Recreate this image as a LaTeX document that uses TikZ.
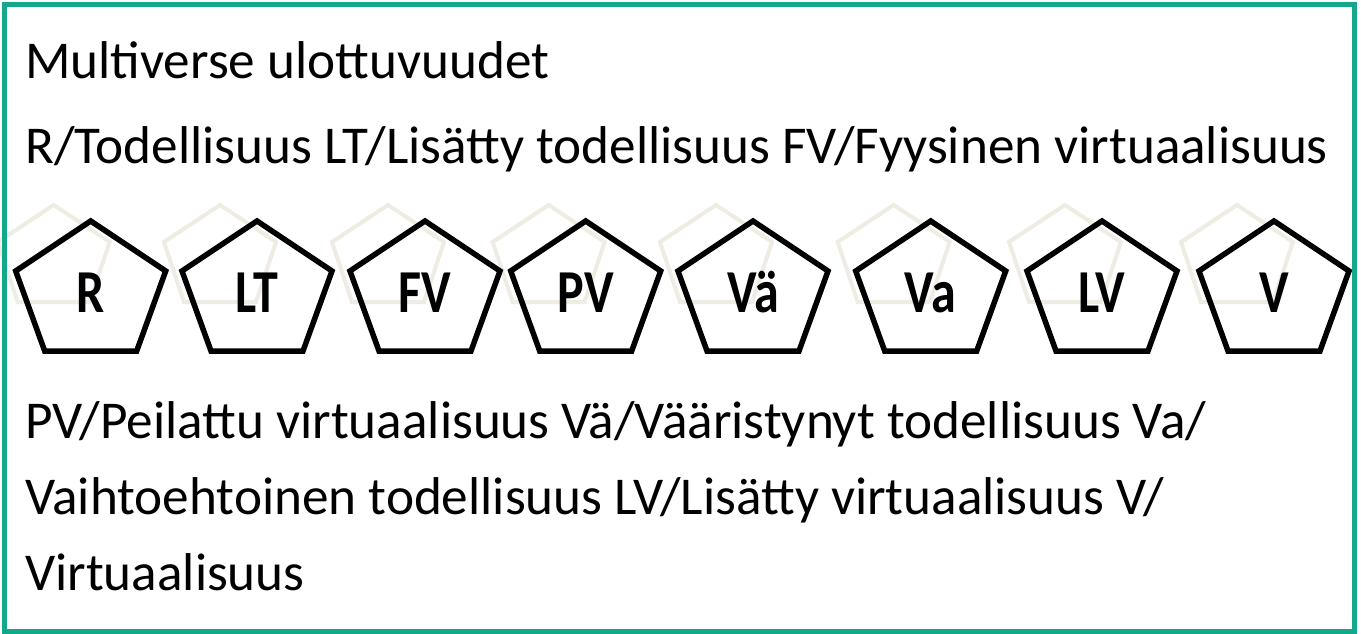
\documentclass[tikz,border=0pt]{standalone}
\usepackage{fontspec}
\setmainfont{Carlito}
\newfontfamily\labelfont[FakeStretch=0.82]{Carlito Bold}
\definecolor{frame}{RGB}{20,168,138}
\definecolor{ghost}{RGB}{238,236,227}
\begin{document}
\begin{tikzpicture}[x=1pt,y=-1pt,
  bodytext/.style={anchor=base west,inner sep=0pt,font=\fontsize{53.2}{60}\selectfont},
  pentlabel/.style={anchor=base,inner sep=0pt,font=\labelfont\fontsize{61}{64}\selectfont},
  pentline/.style={draw=black,line width=5.5pt,line join=miter},
  ghostline/.style={draw=ghost,line width=4pt,line join=miter}]
\useasboundingbox (0,0) rectangle (1361,634);
\fill[white] (0,0) rectangle (1361,634);

% faint offset outlines behind each pentagon
\foreach \cx in {90.7,257,425,585.7,753,930.7,1102,1274}{
  \draw[ghostline] (\cx-37,205) -- (\cx+19,242) -- (\cx-1,302) -- (\cx-73,302) -- (\cx-93,242) -- cycle;
}
% the pentagons
\foreach \cx in {90.7,257,425,585.7,753,930.7,1102,1274}{
  \draw[pentline] (\cx,221) -- (\cx+75,271) -- (\cx+46,351) -- (\cx-46,351) -- (\cx-75,271) -- cycle;
}
\node[pentlabel] (pR)  at (90.7,312)  {R};
\node[pentlabel] (pLT) at (257,312)   {LT};
\node[pentlabel] (pFV) at (425,312)   {FV};
\node[pentlabel] (pPV) at (585.7,312) {PV};
\node[pentlabel] (pVae) at (753,312)  {Vä};
\node[pentlabel] (pVa) at (930.7,312) {Va};
\node[pentlabel] (pLV) at (1102,312)  {LV};
\node[pentlabel] (pV)  at (1274,312)  {V};

% text lines
\node[bodytext] (title) at (25,78)  {Multiverse ulottuvuudet};
\node[bodytext] (line2) at (25,163) {R/Todellisuus LT/Lisätty todellisuus FV/Fyysinen virtuaalisuus};
\node[bodytext] (line3) at (25,438) {PV/Peilattu virtuaalisuus Vä/Vääristynyt todellisuus Va/};
\node[bodytext] (line4) at (25,514) {Vaihtoehtoinen todellisuus LV/Lisätty virtuaalisuus V/};
\node[bodytext] (line5) at (25,590) {Virtuaalisuus};

% outer frame
\draw[frame,line width=5pt] (4,4.5) rectangle (1354.5,631);
\end{tikzpicture}
\end{document}
